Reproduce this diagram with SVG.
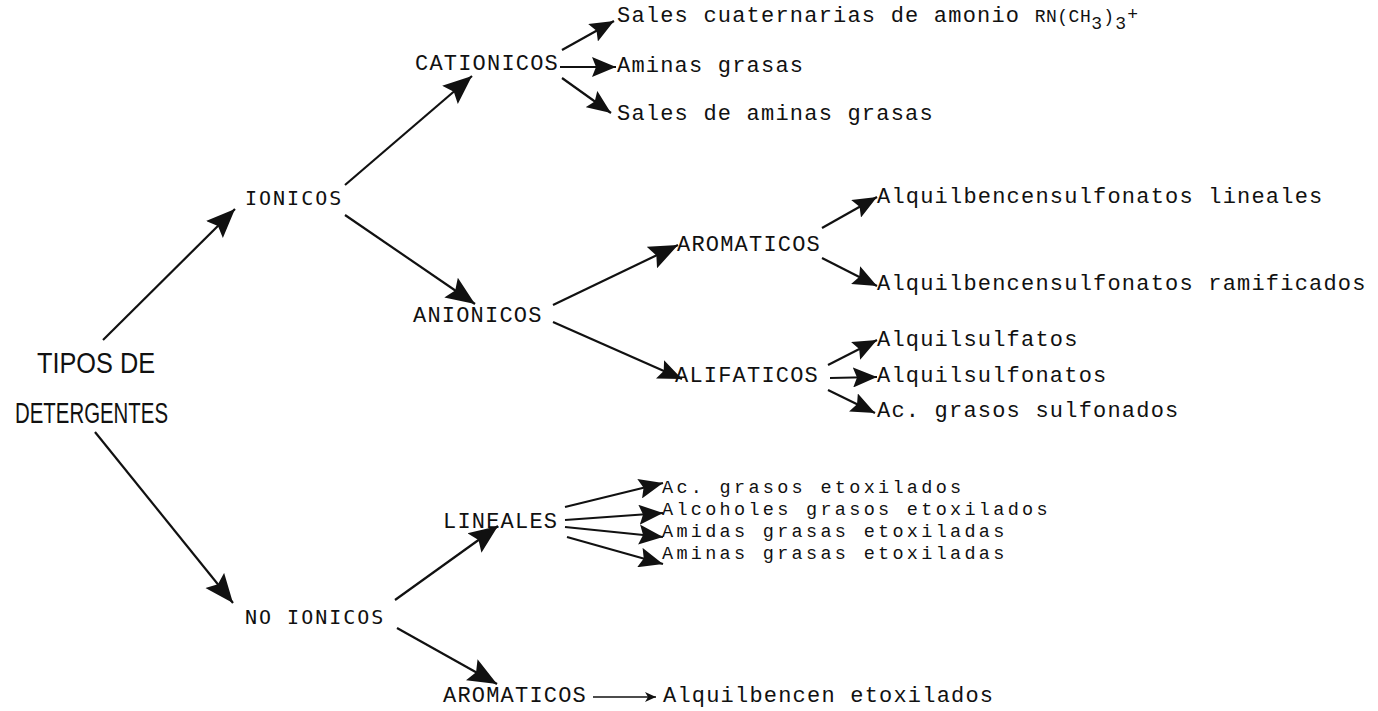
<svg xmlns="http://www.w3.org/2000/svg" width="1378" height="711" viewBox="0 0 1378 711">
<style>
.tw{font-family:"Liberation Mono","Courier New",monospace;font-size:22px;letter-spacing:1.2px;fill:#111}
.tn{font-family:"Liberation Mono","Courier New",monospace;font-size:18.5px;letter-spacing:3.3px;fill:#111}
.sm{font-family:"Liberation Mono","Courier New",monospace;font-size:18px;fill:#111}
.hd{font-family:"DejaVu Sans Mono","Liberation Mono",monospace;font-size:20px;letter-spacing:2px;fill:#111}
.ti{font-family:"Liberation Sans",Arial,sans-serif;font-size:29px;fill:#111}
.c line{stroke:#111;stroke-width:2.2;fill:none}
.c line.big{marker-end:url(#big)}
.c line.med{marker-end:url(#med)}
.c line.thin{stroke-width:1.6;marker-end:url(#thin)}
</style>
<defs>
<marker id="big" markerUnits="userSpaceOnUse" markerWidth="30" markerHeight="26" refX="29" refY="13" orient="auto"><path d="M0,1 L29,13 L0,25 L5,13 z" fill="#111"/></marker>
<marker id="med" markerUnits="userSpaceOnUse" markerWidth="25" markerHeight="20" refX="24" refY="10" orient="auto"><path d="M0,0 L24,10 L0,20 L4,10 z" fill="#111"/></marker>
<marker id="thin" markerUnits="userSpaceOnUse" markerWidth="12" markerHeight="10" refX="11" refY="5" orient="auto"><path d="M0,0 L11,5 L0,10 L3,5 z" fill="#111"/></marker>
</defs>
<rect width="1378" height="711" fill="#fff"/>
<g class="c" id="connectors">
<line class="big" x1="103" y1="340" x2="235" y2="209"/>
<line class="big" x1="95" y1="432" x2="233" y2="603"/>
<line class="big" x1="345" y1="185" x2="472" y2="76"/>
<line class="big" x1="345" y1="215" x2="475" y2="304"/>
<line class="med" x1="562" y1="50" x2="614" y2="21"/>
<line class="med" x1="560" y1="67" x2="616" y2="67"/>
<line class="med" x1="562" y1="78" x2="611" y2="113"/>
<line class="big" x1="553" y1="305" x2="678" y2="245"/>
<line class="med" x1="553" y1="322" x2="682" y2="379"/>
<line class="med" x1="822" y1="228" x2="877" y2="197"/>
<line class="med" x1="822" y1="258" x2="877" y2="286"/>
<line class="med" x1="828" y1="365" x2="877" y2="340"/>
<line class="med" x1="830" y1="378" x2="877" y2="377"/>
<line class="med" x1="828" y1="390" x2="875" y2="413"/>
<line class="big" x1="395" y1="600" x2="498" y2="526"/>
<line class="big" x1="397" y1="628" x2="497" y2="684"/>
<line class="med" x1="565" y1="507" x2="663" y2="483"/>
<line class="med" x1="565" y1="520" x2="663" y2="513"/>
<line class="med" x1="565" y1="527" x2="663" y2="537"/>
<line class="med" x1="567" y1="537" x2="663" y2="564"/>
<line class="thin" x1="593" y1="697" x2="656" y2="697"/>
</g>
<g id="tipos"><text class="ti" x="37" y="373" textLength="118" lengthAdjust="spacingAndGlyphs">TIPOS DE</text><text class="ti" x="15" y="423" textLength="153" lengthAdjust="spacingAndGlyphs">DETERGENTES</text></g>
<g id="ionicos"><text class="hd" x="245" y="205">IONICOS</text></g>
<g id="noionicos"><text class="hd" x="245" y="624">NO IONICOS</text></g>
<g id="cationicos"><text class="tw" x="415" y="70">CATIONICOS</text></g>
<g id="sales-cuat"><text class="tw" x="617" y="22">Sales cuaternarias de amonio <tspan class="sm" style="letter-spacing:0.5px">RN(CH</tspan><tspan class="sm" dy="7">3</tspan><tspan class="sm" dy="-7">)</tspan><tspan class="sm" dy="7">3</tspan><tspan class="sm" dy="-9">+</tspan></text></g>
<g id="aminas-grasas"><text class="tw" x="617" y="72">Aminas grasas</text></g>
<g id="sales-aminas"><text class="tw" x="617" y="120">Sales de aminas grasas</text></g>
<g id="anionicos"><text class="tw" x="413" y="322">ANIONICOS</text></g>
<g id="aromaticos1"><text class="tw" x="677" y="251">AROMATICOS</text></g>
<g id="alq-lin"><text class="tw" x="877" y="203">Alquilbencensulfonatos lineales</text></g>
<g id="alq-ram"><text class="tw" x="877" y="290">Alquilbencensulfonatos ramificados</text></g>
<g id="alifaticos"><text class="tw" x="675" y="382">ALIFATICOS</text></g>
<g id="alqsulfatos"><text class="tw" x="877" y="346">Alquilsulfatos</text></g>
<g id="alqsulfonatos"><text class="tw" x="877" y="382">Alquilsulfonatos</text></g>
<g id="acsulf"><text class="tw" x="877" y="417">Ac. grasos sulfonados</text></g>
<g id="lineales"><text class="tw" x="443" y="528">LINEALES</text></g>
<g id="ac-etox"><text class="tn" x="662" y="493">Ac. grasos etoxilados</text></g>
<g id="alc-etox"><text class="tn" x="662" y="515">Alcoholes grasos etoxilados</text></g>
<g id="amid-etox"><text class="tn" x="662" y="537">Amidas grasas etoxiladas</text></g>
<g id="amin-etox"><text class="tn" x="662" y="559">Aminas grasas etoxiladas</text></g>
<g id="aromaticos2"><text class="tw" x="443" y="702">AROMATICOS</text></g>
<g id="alqbenc-etox"><text class="tw" x="663" y="702">Alquilbencen etoxilados</text></g>
</svg>
